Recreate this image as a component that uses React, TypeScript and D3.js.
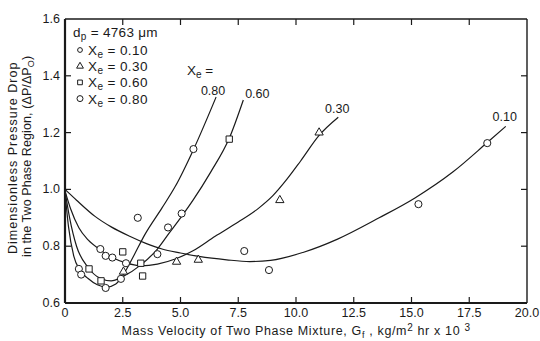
import { useEffect, useRef } from "react";
import * as d3 from "d3";

type Pt = [number, number];

// ── Axis ticks ───────────────────────────────────────────────────────────────
const X_TICKS = [0, 2.5, 5, 7.5, 10, 12.5, 15, 17.5, 20];
const X_TICK_LABELS = ["0", "2.5", "5.0", "7.5", "10.0", "12.5", "15.0", "17.5", "20.0"];
const Y_TICKS = [0.6, 0.8, 1.0, 1.2, 1.4, 1.6];
const Y_TICK_LABELS = ["0.6", "0.8", "1.0", "1.2", "1.4", "1.6"];

// ── Series (quality X_e) ─────────────────────────────────────────────────────
const XE = ["0.10", "0.30", "0.60", "0.80"];
const SYMBOLS = ["circle", "triangle", "square", "circle"];

const PTS_010: Pt[] = [
  [1.53, 0.79], [1.76, 0.766], [2.05, 0.76], [2.64, 0.74],
  [7.76, 0.783], [8.83, 0.716], [15.3, 0.948], [18.28, 1.163],
];
const PTS_030: Pt[] = [
  [2.53, 0.71], [4.83, 0.745], [5.77, 0.752], [9.3, 0.962], [11.0, 1.2],
];
const PTS_060: Pt[] = [
  [1.04, 0.72], [1.56, 0.678], [2.5, 0.78], [3.28, 0.74], [3.36, 0.695], [7.11, 1.177],
];
const PTS_080: Pt[] = [
  [0.6, 0.72], [0.7, 0.70], [1.76, 0.653], [2.42, 0.685], [3.15, 0.90],
  [4.0, 0.772], [4.46, 0.866], [5.05, 0.915], [5.56, 1.142],
];

// hand-drawn fitted curves
const CURVE_010: Pt[] = [
  [0, 1.0], [0.5, 0.962], [1.3, 0.905], [2.0, 0.868], [2.8, 0.835], [3.5, 0.81],
  [4.2, 0.79], [5.0, 0.776], [5.8, 0.764], [7.0, 0.752], [8.0, 0.746], [8.9, 0.75],
  [10.3, 0.778], [11.8, 0.825], [13.6, 0.9], [15.15, 0.97], [16.8, 1.062],
  [18.28, 1.165], [19.08, 1.222],
];
const CURVE_030: Pt[] = [
  [0, 0.995], [0.25, 0.93], [0.6, 0.865], [1.0, 0.822], [1.53, 0.787], [2.05, 0.76],
  [2.6, 0.742], [3.3, 0.731], [4.0, 0.737], [4.8, 0.756], [5.5, 0.782], [6.5, 0.835],
  [7.5, 0.885], [8.4, 0.935], [9.0, 0.978], [9.6, 1.035], [10.2, 1.1], [11.0, 1.19],
  [11.83, 1.254],
];
const CURVE_060: Pt[] = [
  [0, 0.995], [0.2, 0.9], [0.5, 0.8], [1.0, 0.725], [1.5, 0.688], [2.0, 0.678],
  [2.5, 0.693], [3.3, 0.735], [4.0, 0.79], [4.5, 0.845], [5.05, 0.905], [5.55, 0.963],
  [6.3, 1.06], [7.11, 1.18], [7.72, 1.315],
];
const CURVE_080: Pt[] = [
  [0, 0.99], [0.15, 0.87], [0.38, 0.765], [0.65, 0.715], [1.0, 0.686], [1.4, 0.664],
  [1.8, 0.656], [2.2, 0.667], [2.6, 0.71], [3.0, 0.77], [3.45, 0.84], [4.2, 0.935],
  [4.77, 1.01], [5.56, 1.14], [6.54, 1.325],
];

const POINTS = [PTS_010, PTS_030, PTS_060, PTS_080];
const CURVES = [CURVE_010, CURVE_030, CURVE_060, CURVE_080];

// ── Styling / layout ─────────────────────────────────────────────────────────
const INK = "#1a1a1a";
const FONT = "'Liberation Sans', Arial, sans-serif";
const W = 540;
const H = 341;
const LABEL_DX = [-1, -1, 14, -3];   // curve-end label offsets (px)
const LABEL_DY = [-5, -4, -2, -2];

const symbolType = (s: string) =>
  s === "triangle" ? d3.symbolTriangle : s === "square" ? d3.symbolSquare : d3.symbolCircle;

export default function App() {
  const svgRef = useRef<SVGSVGElement>(null);

  useEffect(() => {
    document.body.style.margin = "0";
    const svg = d3.select(svgRef.current);
    svg.selectAll("*").remove();

    const x = d3.scaleLinear().domain([0, 20]).range([65, 527]);
    const y = d3.scaleLinear().domain([0.6, 1.6]).range([303, 19]);
    const [x0, x1] = x.range();
    const [y0, y1] = y.range();

    svg.append("rect").attr("width", W).attr("height", H).attr("fill", "#fff");
    const g = svg.append("g").attr("font-family", FONT).attr("fill", INK);

    // ── Frame ────────────────────────────────────────────────────────────
    g.append("line").attr("x1", x0).attr("x2", x1).attr("y1", y1).attr("y2", y1)
      .attr("stroke", INK).attr("stroke-width", 1.4);
    g.append("line").attr("x1", x1).attr("x2", x1).attr("y1", y1).attr("y2", y0)
      .attr("stroke", INK).attr("stroke-width", 1.4);
    g.append("line").attr("x1", x0).attr("x2", x1).attr("y1", y0).attr("y2", y0)
      .attr("stroke", INK).attr("stroke-width", 2);
    g.append("line").attr("x1", x0).attr("x2", x0).attr("y1", y1).attr("y2", y0)
      .attr("stroke", INK).attr("stroke-width", 2.2);

    // ── Ticks (inward, all four sides) ───────────────────────────────────
    const TL = 6;
    X_TICKS.slice(1, -1).forEach(t => {
      g.append("line").attr("x1", x(t)).attr("x2", x(t)).attr("y1", y0).attr("y2", y0 - TL)
        .attr("stroke", INK).attr("stroke-width", 1.2);
      g.append("line").attr("x1", x(t)).attr("x2", x(t)).attr("y1", y1).attr("y2", y1 + TL)
        .attr("stroke", INK).attr("stroke-width", 1.2);
    });
    Y_TICKS.slice(1, -1).forEach(t => {
      g.append("line").attr("x1", x0).attr("x2", x0 + TL).attr("y1", y(t)).attr("y2", y(t))
        .attr("stroke", INK).attr("stroke-width", 1.2);
      g.append("line").attr("x1", x1).attr("x2", x1 - TL).attr("y1", y(t)).attr("y2", y(t))
        .attr("stroke", INK).attr("stroke-width", 1.2);
    });

    // ── Tick labels ──────────────────────────────────────────────────────
    X_TICKS.forEach((t, i) => {
      g.append("text").attr("x", x(t)).attr("y", y0 + 14).attr("text-anchor", "middle")
        .attr("font-size", 12.5).text(X_TICK_LABELS[i]);
    });
    Y_TICKS.forEach((t, i) => {
      g.append("text").attr("x", x0 - 5).attr("y", y(t) + 4).attr("text-anchor", "end")
        .attr("font-size", 12.5).text(Y_TICK_LABELS[i]);
    });

    // ── Axis titles ──────────────────────────────────────────────────────
    const xt = g.append("text").attr("x", 296).attr("y", 335).attr("text-anchor", "middle")
      .attr("font-size", 12.5).attr("letter-spacing", 0.65);
    xt.append("tspan").text("Mass Velocity of Two Phase Mixture, G");
    xt.append("tspan").attr("font-size", 9).attr("dy", 3).text("f");
    xt.append("tspan").attr("dy", -3).text(" ,  kg/m");
    xt.append("tspan").attr("font-size", 10).attr("dy", -4).text("2");
    xt.append("tspan").attr("dy", 4).text("  hr  x  10 ");
    xt.append("tspan").attr("font-size", 10).attr("dy", -4).text("3");

    const yt1 = g.append("text").attr("transform", "translate(17,254) rotate(-90)")
      .attr("font-size", 12.5).attr("letter-spacing", 1.0);
    yt1.text("Dimensionless Pressure Drop");
    const yt2 = g.append("text").attr("transform", "translate(31,257) rotate(-90)")
      .attr("font-size", 12.5).attr("letter-spacing", 0.1);
    yt2.append("tspan").text("in the Two Phase Region, (ΔP/ΔP");
    yt2.append("tspan").attr("font-size", 9).attr("dy", 3).text("O");
    yt2.append("tspan").attr("dy", -3).text(")");

    // ── Curves ───────────────────────────────────────────────────────────
    const line = d3.line<Pt>().x(d => x(d[0])).y(d => y(d[1])).curve(d3.curveMonotoneX);
    CURVES.forEach((c, i) => {
      g.append("path").datum(c).attr("d", line)
        .attr("fill", "none").attr("stroke", INK).attr("stroke-width", 1.2);
      const end = c[c.length - 1];
      g.append("text")
        .attr("x", x(end[0]) + LABEL_DX[i]).attr("y", y(end[1]) + LABEL_DY[i])
        .attr("text-anchor", "middle").attr("font-size", 12.5).text(XE[i]);
    });

    // ── Data markers ─────────────────────────────────────────────────────
    const sizes: Record<string, number> = { circle: 40, triangle: 30, square: 40 };
    POINTS.forEach((pts, i) => {
      const sym = d3.symbol().type(symbolType(SYMBOLS[i])).size(sizes[SYMBOLS[i]]);
      g.selectAll(null).data(pts).enter().append("path")
        .attr("d", sym)
        .attr("transform", d => `translate(${x(d[0])},${y(d[1])})`)
        .attr("fill", "#fff").attr("stroke", INK).attr("stroke-width", 1);
    });

    // ── Legend ───────────────────────────────────────────────────────────
    const dp = g.append("text").attr("x", 73).attr("y", 37).attr("font-size", 13.5)
      .attr("letter-spacing", 0.3);
    dp.append("tspan").text("d");
    dp.append("tspan").attr("font-size", 10).attr("dy", 3).text("p");
    dp.append("tspan").attr("dy", -3).text(" = 4763 μm");

    const legSizes = [18, 20, 22, 28];
    XE.forEach((v, i) => {
      const cy = 50 + i * 16.2;
      g.append("path")
        .attr("d", d3.symbol().type(symbolType(SYMBOLS[i])).size(legSizes[i]))
        .attr("transform", `translate(80,${cy})`)
        .attr("fill", "#fff").attr("stroke", INK).attr("stroke-width", 1);
      const t = g.append("text").attr("x", 88).attr("y", cy + 5).attr("font-size", 13.5)
        .attr("letter-spacing", 0.4);
      t.append("tspan").text("X");
      t.append("tspan").attr("font-size", 10).attr("dy", 3).text("e");
      t.append("tspan").attr("dy", -3).text(` = ${v}`);
    });

    const xeLab = g.append("text").attr("x", 187).attr("y", 75).attr("font-size", 13.5);
    xeLab.append("tspan").text("X");
    xeLab.append("tspan").attr("font-size", 10).attr("dy", 3).text("e");
    xeLab.append("tspan").attr("dy", -3).text(" =");
  }, []);

  return <svg ref={svgRef} width={W} height={H} style={{ display: "block" }} />;
}
